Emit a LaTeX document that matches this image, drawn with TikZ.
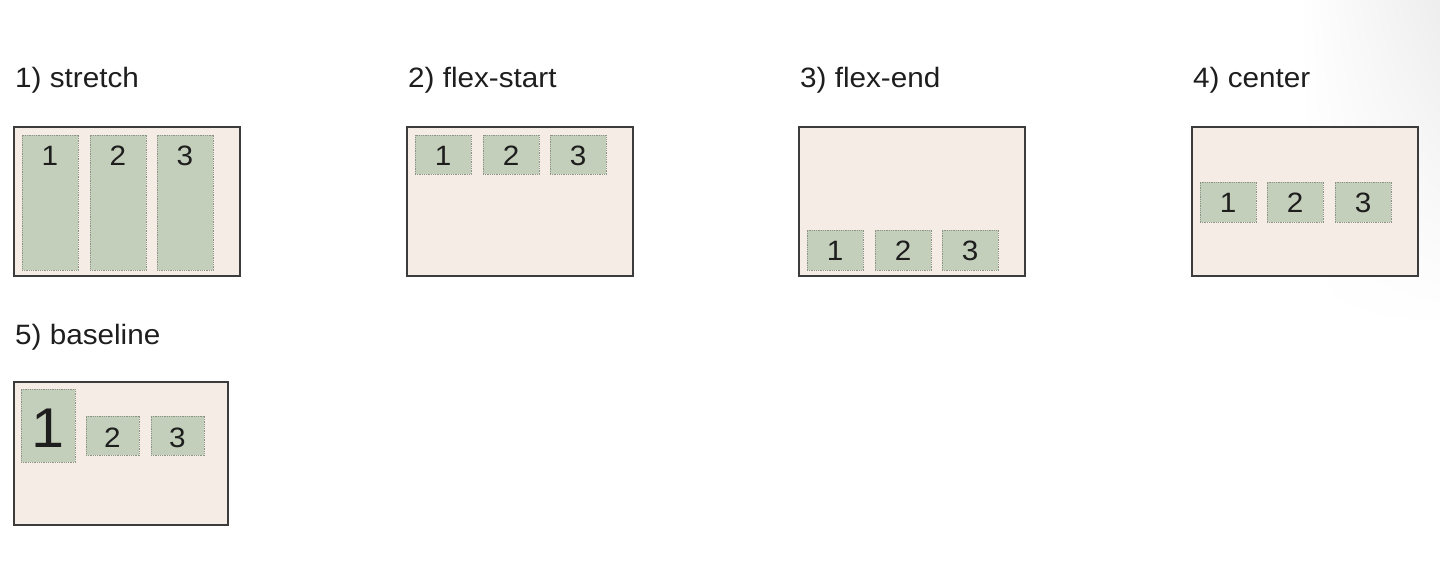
\documentclass[tikz,border=0pt]{standalone}
\usepackage{fontspec}
\usetikzlibrary{shadings}
\setmainfont{Liberation Sans}[FakeStretch=1.06]
\definecolor{boxfill}{HTML}{F5ECE6}
\definecolor{boxline}{HTML}{3C3C3C}
\definecolor{itemfill}{HTML}{C3CFBA}
\definecolor{itemline}{HTML}{8C9488}
\definecolor{txt}{HTML}{1E1E1E}
\begin{document}
\begin{tikzpicture}[x=1pt,y=-1pt,
  title/.style={anchor=base west,inner sep=0pt,text=txt,font=\fontsize{28}{30}\selectfont},
  container/.style={draw=boxline,line width=1.3pt,fill=boxfill},
  item/.style={anchor=base,inner sep=0pt,minimum width=56pt,fill=itemfill,draw=itemline,
    line width=0.7pt,dash pattern=on 1pt off 0.8pt,text=txt,font=\fontsize{28}{30}\selectfont},
  bigitem/.style={item,minimum width=54pt,font=\fontsize{56}{60}\selectfont},
  smallitem/.style={item,minimum width=53pt}]
\useasboundingbox (0,0) rectangle (1440,562);
\shade[upper left=white,upper right=black!7,lower left=white,lower right=white] (1300,0) rectangle (1440,330);
% 1) stretch
\node[title] (t1) at (15,87) {1) stretch};
\draw[container] (14,127) rectangle (240,276);
\node[item,text height=30pt,text depth=105pt] (s1) at (50,165) {1};
\node[item,text height=30pt,text depth=105pt] (s2) at (118,165) {2};
\node[item,text height=30pt,text depth=105pt] (s3) at (185,165) {3};
% 2) flex-start
\node[title] (t2) at (408,87) {2) flex-start};
\draw[container] (407,127) rectangle (633,276);
\node[item,text height=30pt,text depth=9pt] (fs1) at (443,165) {1};
\node[item,text height=30pt,text depth=9pt] (fs2) at (511,165) {2};
\node[item,text height=30pt,text depth=9pt] (fs3) at (578,165) {3};
% 3) flex-end
\node[title] (t3) at (800,87) {3) flex-end};
\draw[container] (799,127) rectangle (1025,276);
\node[item,text height=30pt,text depth=10pt] (fe1) at (835,260) {1};
\node[item,text height=30pt,text depth=10pt] (fe2) at (903,260) {2};
\node[item,text height=30pt,text depth=10pt] (fe3) at (970,260) {3};
% 4) center
\node[title] (t4) at (1193,87) {4) center};
\draw[container] (1192,127) rectangle (1418,276);
\node[item,text height=30pt,text depth=10pt] (c1) at (1228,212) {1};
\node[item,text height=30pt,text depth=10pt] (c2) at (1295,212) {2};
\node[item,text height=30pt,text depth=10pt] (c3) at (1363,212) {3};
% 5) baseline
\node[title] (t5) at (15,344) {5) baseline};
\draw[container] (14,382) rectangle (228,525);
\node[bigitem,text height=58pt,text depth=15pt] (b1) at (48,447) {1};
\node[smallitem,text height=31pt,text depth=8pt] (b2) at (112.5,447) {2};
\node[smallitem,text height=31pt,text depth=8pt] (b3) at (177.5,447) {3};
\end{tikzpicture}
\end{document}
